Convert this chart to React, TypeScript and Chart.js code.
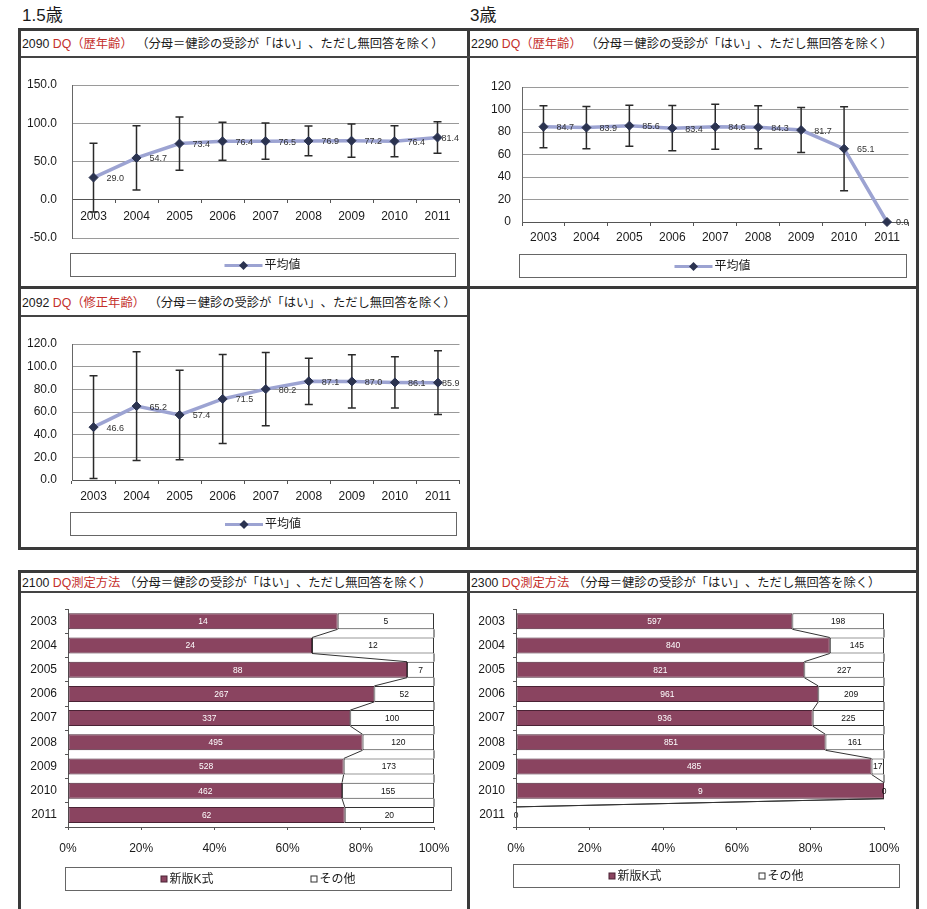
import React, { useEffect, useRef } from 'react';
import { Chart, registerables } from 'chart.js';

Chart.register(...registerables);

const FONT = '"Liberation Sans", "Noto Sans CJK JP", Arial, sans-serif';
Chart.defaults.font.family = FONT;

// ---------- data ----------
const YEARS = ['2003', '2004', '2005', '2006', '2007', '2008', '2009', '2010', '2011'];

// 1.5歳 DQ（歴年齢）: mean and SD
const DQ_AGE_15_MEAN = [29.0, 54.7, 73.4, 76.4, 76.5, 76.9, 77.2, 76.4, 81.4];
const DQ_AGE_15_SD = [45.0, 42.0, 34.7, 24.8, 23.7, 19.4, 21.7, 20.2, 20.6];

// 3歳 DQ（歴年齢）
const DQ_AGE_3_MEAN = [84.7, 83.9, 85.6, 83.4, 84.6, 84.3, 81.7, 65.1, 0.0];
const DQ_AGE_3_SD = [18.7, 18.8, 18.2, 20.1, 20.0, 19.1, 20.0, 37.4, 0];

// 1.5歳 DQ（修正年齢）
const DQ_CORR_15_MEAN = [46.6, 65.2, 57.4, 71.5, 80.2, 87.1, 87.0, 86.1, 85.9];
const DQ_CORR_15_SD = [45.3, 48.0, 39.5, 39.3, 32.4, 20.4, 23.5, 22.6, 28.2];

// DQ測定方法 counts
const METHOD_15_K = [14, 24, 88, 267, 337, 495, 528, 462, 62];
const METHOD_15_OTHER = [5, 12, 7, 52, 100, 120, 173, 155, 20];
const METHOD_3_K = [597, 840, 821, 961, 936, 851, 485, 9, 0];
const METHOD_3_OTHER = [198, 145, 227, 209, 225, 161, 17, 0, 0];

const SERIES_MEAN = '平均値';
const SERIES_K = '新版K式';
const SERIES_OTHER = 'その他';

// ---------- styles ----------
const LAVENDER = '#9ca3d2';
const NAVY = '#2b3350';
const MAROON = '#8a4460';
const MAROON_EDGE = '#4a2234';
const TEXT = '#1a1a1a';
const RED = '#c4302b';

// ---------- plugins ----------
const errorBarPlugin = {
  id: 'errorBars',
  afterDatasetDraw(chart: any, args: any) {
    const ds = chart.data.datasets[args.index];
    if (!ds.errorSd) return;
    const y = chart.scales.y;
    const ctx = chart.ctx;
    ctx.save();
    ctx.strokeStyle = '#2a2a2a';
    ctx.lineWidth = 1.5;
    args.meta.data.forEach((el: any, i: number) => {
      const sd = ds.errorSd[i];
      if (!sd) return;
      const v = ds.data[i];
      const x = el.x;
      const yt = y.getPixelForValue(v + sd);
      const yb = y.getPixelForValue(v - sd);
      ctx.beginPath();
      ctx.moveTo(x, yt);
      ctx.lineTo(x, yb);
      ctx.moveTo(x - 4, yt);
      ctx.lineTo(x + 4, yt);
      ctx.moveTo(x - 4, yb);
      ctx.lineTo(x + 4, yb);
      ctx.stroke();
    });
    ctx.restore();
  },
};

const pointLabelPlugin = {
  id: 'pointLabels',
  afterDatasetsDraw(chart: any) {
    const ctx = chart.ctx;
    ctx.save();
    ctx.font = `9px ${FONT}`;
    ctx.fillStyle = '#333';
    ctx.textAlign = 'left';
    ctx.textBaseline = 'middle';
    chart.data.datasets.forEach((ds: any, di: number) => {
      if (!ds.valueLabels) return;
      const meta = chart.getDatasetMeta(di);
      meta.data.forEach((el: any, i: number) => {
        const t = Number(ds.data[i]).toFixed(1);
        const w = ctx.measureText(t).width;
        let x = el.x + 13;
        if (x + w > chart.chartArea.right) x = chart.chartArea.right - w;
        ctx.fillText(t, x, el.y + 1);
      });
    });
    ctx.restore();
  },
};

const boxLegendPlugin = {
  id: 'boxLegend',
  afterDraw(chart: any, _a: any, opts: any) {
    if (!opts || !opts.box) return;
    const ctx = chart.ctx;
    const [x1, y1, x2, y2] = opts.box;
    ctx.save();
    ctx.strokeStyle = '#666';
    ctx.lineWidth = 1;
    ctx.strokeRect(Math.round(x1) + 0.5, Math.round(y1) + 0.5, Math.round(x2 - x1), Math.round(y2 - y1));
    ctx.font = `12px ${FONT}`;
    ctx.textBaseline = 'middle';
    ctx.textAlign = 'left';
    const cy = (y1 + y2) / 2 + 1;
    const dsets = chart.data.datasets.filter((d: any) => !d.hideInLegend);
    const kind = opts.kind;
    const widths = dsets.map((d: any) => (kind === 'line' ? 40 : 9) + ctx.measureText(d.label).width);
    const total = opts.column
      ? opts.column * (dsets.length - 1) + widths[widths.length - 1]
      : widths.reduce((a: number, b: number) => a + b, 0);
    let x = (x1 + x2) / 2 - total / 2;
    dsets.forEach((d: any, i: number) => {
      if (kind === 'line') {
        ctx.strokeStyle = d.legendLine;
        ctx.lineWidth = 3;
        ctx.beginPath();
        ctx.moveTo(x, cy);
        ctx.lineTo(x + 38, cy);
        ctx.stroke();
        ctx.fillStyle = d.pointBackgroundColor;
        ctx.beginPath();
        ctx.moveTo(x + 19 - 4.5, cy);
        ctx.lineTo(x + 19, cy - 4.5);
        ctx.lineTo(x + 19 + 4.5, cy);
        ctx.lineTo(x + 19, cy + 4.5);
        ctx.closePath();
        ctx.fill();
        ctx.fillStyle = TEXT;
        ctx.fillText(d.label, x + 40, cy);
      } else {
        ctx.fillStyle = d.backgroundColor;
        ctx.fillRect(x + 0.5, cy - 3.5, 6, 6);
        ctx.strokeStyle = d.borderColor;
        ctx.lineWidth = 1;
        ctx.strokeRect(x + 0.5, cy - 3.5, 6, 6);
        ctx.fillStyle = TEXT;
        ctx.fillText(d.label, x + 9, cy);
      }
      x += opts.column ? opts.column : widths[i];
    });
    ctx.restore();
  },
};

const seriesLinePlugin = {
  id: 'seriesLines',
  afterDatasetsDraw(chart: any) {
    const ctx = chart.ctx;
    ctx.save();
    ctx.strokeStyle = '#333';
    ctx.lineWidth = 1;
    chart.data.datasets.forEach((_d: any, di: number) => {
      const els = chart.getDatasetMeta(di).data;
      for (let i = 0; i < els.length - 1; i++) {
        const a = els[i];
        const b = els[i + 1];
        ctx.beginPath();
        ctx.moveTo(a.x, a.y + a.height / 2);
        ctx.lineTo(b.x, b.y - b.height / 2);
        ctx.stroke();
      }
    });
    ctx.restore();
  },
};

const barValuePlugin = {
  id: 'barValues',
  afterDatasetsDraw(chart: any) {
    const ctx = chart.ctx;
    ctx.save();
    ctx.font = `8.5px ${FONT}`;
    ctx.textAlign = 'center';
    ctx.textBaseline = 'middle';
    chart.data.datasets.forEach((ds: any, di: number) => {
      const meta = chart.getDatasetMeta(di);
      meta.data.forEach((el: any, i: number) => {
        ctx.fillStyle = ds.valueColor;
        ctx.fillText(String(ds.counts[i]), (el.x + el.base) / 2, el.y + 0.5);
      });
    });
    ctx.restore();
  },
};

// ---------- config builders ----------
function lineConfig(
  mean: number[],
  sd: number[],
  yMin: number,
  yMax: number,
  step: number,
  decimals: number,
  yWidth: number,
  tickPad: number,
  xPad: number,
  pad: { top: number; right: number; bottom: number },
  legendBox: number[]
) {
  return {
    type: 'line',
    data: {
      labels: YEARS,
      datasets: [
        {
          label: SERIES_MEAN,
          data: mean,
          showLine: false,
          pointStyle: 'rectRot',
          pointRadius: 4.5,
          pointBackgroundColor: NAVY,
          pointBorderColor: NAVY,
          pointBorderWidth: 1,
          order: 0,
          clip: false,
          valueLabels: true,
          legendLine: LAVENDER,
        },
        {
          label: SERIES_MEAN,
          data: mean,
          borderColor: LAVENDER,
          borderWidth: 3.5,
          pointRadius: 0,
          tension: 0,
          order: 1,
          clip: false,
          errorSd: sd,
          hideInLegend: true,
        },
      ],
    },
    options: {
      animation: false,
      responsive: false,
      devicePixelRatio: 1,
      layout: { padding: { left: 0, top: pad.top, right: pad.right, bottom: pad.bottom } },
      plugins: {
        legend: { display: false },
        tooltip: { enabled: false },
        boxLegend: { box: legendBox, kind: 'line' },
      },
      scales: {
        x: {
          type: 'category',
          offset: true,
          position: { y: 0 },
          afterFit: (s: any) => {
            s.height = 0;
          },
          grid: { display: true, offset: true, drawOnChartArea: false, drawTicks: true, tickLength: 3, color: '#555' },
          border: { display: true, color: '#555', width: 1 },
          ticks: { font: { size: 12, family: FONT }, color: TEXT, padding: xPad, maxRotation: 0, autoSkip: false },
        },
        y: {
          min: yMin,
          max: yMax,
          afterFit: (s: any) => {
            s.width = yWidth;
          },
          ticks: {
            stepSize: step,
            padding: tickPad,
            font: { size: 12, family: FONT },
            color: TEXT,
            callback: (v: any) => Number(v).toFixed(decimals),
          },
          grid: { color: '#9a9a9a', drawTicks: false },
          border: { display: true, color: '#666' },
        },
      },
    },
    plugins: [errorBarPlugin, pointLabelPlugin, boxLegendPlugin],
  };
}

function toPct(values: number[], other: number[]) {
  return values.map((v, i) => {
    const t = values[i] + other[i];
    return t > 0 ? (v / t) * 100 : 0;
  });
}

function barConfig(k: number[], other: number[], yWidth: number, pad: { top: number; right: number; bottom: number }, legendBox: number[]) {
  return {
    type: 'bar',
    data: {
      labels: YEARS,
      datasets: [
        {
          label: SERIES_K,
          data: toPct(k, other),
          counts: k,
          backgroundColor: MAROON,
          borderColor: MAROON_EDGE,
          borderWidth: 1,
          borderSkipped: false,
          barPercentage: 0.66,
          categoryPercentage: 1,
          valueColor: '#ffffff',
        },
        {
          label: SERIES_OTHER,
          data: toPct(other, k),
          counts: other,
          backgroundColor: '#ffffff',
          borderColor: '#333',
          borderWidth: 1,
          borderSkipped: false,
          barPercentage: 0.66,
          categoryPercentage: 1,
          valueColor: '#111',
        },
      ],
    },
    options: {
      indexAxis: 'y',
      animation: false,
      responsive: false,
      devicePixelRatio: 1,
      layout: { padding: { left: 0, top: pad.top, right: pad.right, bottom: pad.bottom } },
      plugins: {
        legend: { display: false },
        tooltip: { enabled: false },
        boxLegend: { box: legendBox, kind: 'square', column: 150 },
      },
      scales: {
        x: {
          stacked: true,
          min: 0,
          max: 100,
          afterFit: (s: any) => {
            s.height = 30;
          },
          ticks: {
            stepSize: 20,
            padding: 11,
            font: { size: 12, family: FONT },
            color: TEXT,
            callback: (v: any) => v + '%',
          },
          grid: { display: true, drawOnChartArea: false, tickLength: 3, color: '#555' },
          border: { display: true, color: '#555' },
        },
        y: {
          stacked: true,
          afterFit: (s: any) => {
            s.width = yWidth;
          },
          ticks: { padding: 8, font: { size: 12, family: FONT }, color: TEXT, autoSkip: false },
          grid: { display: true, offset: true, drawOnChartArea: false, tickLength: 3, color: '#555' },
          border: { display: true, color: '#555' },
        },
      },
    },
    plugins: [seriesLinePlugin, barValuePlugin, boxLegendPlugin],
  };
}

// ---------- components ----------
function ChartBox({ left, top, width, height, make }: any) {
  const ref = useRef<HTMLCanvasElement>(null);
  useEffect(() => {
    const chart = new Chart(ref.current as any, make() as any);
    return () => chart.destroy();
  }, []);
  return (
    <canvas
      ref={ref}
      width={width}
      height={height}
      style={{ position: 'absolute', left, top, width, height }}
    />
  );
}

function Title({ left, top, num, red }: any) {
  return (
    <div
      style={{
        position: 'absolute',
        left,
        top,
        fontSize: 12.3,
        lineHeight: '14px',
        whiteSpace: 'nowrap',
        fontFamily: FONT,
        color: TEXT,
        textSpacingTrim: 'space-all',
      } as any}
    >
      {num} <span style={{ color: RED }}>{red}</span>
      {' '}（分母＝健診の受診が「はい」、ただし無回答を除く）
    </div>
  );
}

function Line({ left, top, width, height, color = '#3a3a3a' }: any) {
  return <div style={{ position: 'absolute', left, top, width, height, background: color }} />;
}

export default function App() {
  return (
    <div
      style={{
        position: 'absolute',
        left: 0,
        top: 0,
        width: 927,
        height: 909,
        background: '#fff',
        overflow: 'hidden',
        fontFamily: FONT,
      }}
    >
      <div style={{ position: 'absolute', left: 22, top: 6, fontSize: 17, lineHeight: '20px', color: TEXT }}>1.5歳</div>
      <div style={{ position: 'absolute', left: 470, top: 6, fontSize: 17, lineHeight: '20px', color: TEXT }}>3歳</div>

      {/* frame lines */}
      <Line left={18} top={28} width={901} height={3} />
      <Line left={18} top={286} width={901} height={3} />
      <Line left={18} top={547} width={901} height={3} />
      <Line left={18} top={570} width={901} height={3} />
      <Line left={18} top={28} width={3} height={522} />
      <Line left={18} top={570} width={3} height={340} />
      <Line left={467} top={28} width={3} height={522} />
      <Line left={467} top={570} width={3} height={340} />
      <Line left={916} top={28} width={3} height={882} />
      {/* title separators */}
      <Line left={21} top={56} width={895} height={1.5} color="#444" />
      <Line left={21} top={315} width={446} height={1.5} color="#444" />
      <Line left={21} top={591} width={895} height={1.5} color="#444" />

      <Title left={22} top={37} num="2090" red="DQ（歴年齢）" />
      <Title left={471} top={37} num="2290" red="DQ（歴年齢）" />
      <Title left={22} top={296} num="2092" red="DQ（修正年齢）" />
      <Title left={22} top={576} num="2100" red="DQ測定方法" />
      <Title left={471} top={576} num="2300" red="DQ測定方法" />

      <ChartBox
        left={22}
        top={59}
        width={443}
        height={227}
        make={() =>
          lineConfig(DQ_AGE_15_MEAN, DQ_AGE_15_SD, -50, 150, 50, 1, 50, 15, 7, { top: 26, right: 6, bottom: 48 }, [48, 194, 433, 217])
        }
      />
      <ChartBox
        left={471}
        top={59}
        width={443}
        height={227}
        make={() =>
          lineConfig(DQ_AGE_3_MEAN, DQ_AGE_3_SD, 0, 120, 20, 0, 51, 11, 5, { top: 28, right: 5, bottom: 64 }, [48, 195, 435, 218])
        }
      />
      <ChartBox
        left={22}
        top={318}
        width={443}
        height={229}
        make={() =>
          lineConfig(DQ_CORR_15_MEAN, DQ_CORR_15_SD, 0, 120, 20, 1, 50, 15, 6, { top: 26, right: 5, bottom: 67 }, [48, 194, 434, 217])
        }
      />
      <ChartBox
        left={22}
        top={594}
        width={443}
        height={312}
        make={() => barConfig(METHOD_15_K, METHOD_15_OTHER, 46, { top: 14, right: 31, bottom: 49 }, [43, 273, 429, 296])}
      />
      <ChartBox
        left={471}
        top={594}
        width={443}
        height={312}
        make={() => barConfig(METHOD_3_K, METHOD_3_OTHER, 45, { top: 14, right: 30, bottom: 49 }, [42, 270, 428, 293])}
      />
    </div>
  );
}
